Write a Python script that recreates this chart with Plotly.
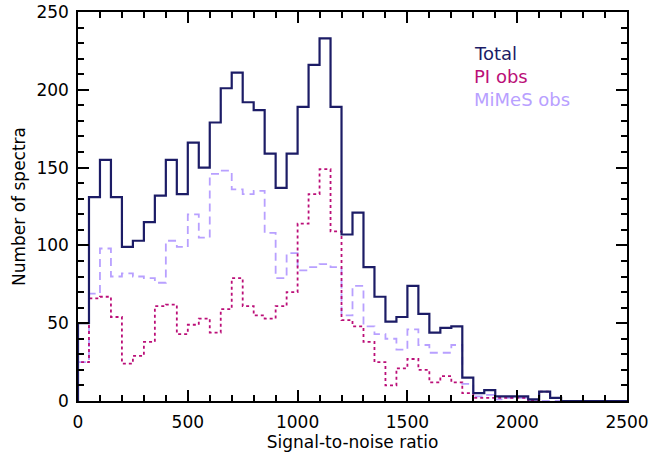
import plotly.graph_objects as go

bin_width = 50
bin_left = list(range(0, 2500, bin_width))

total = [50, 131, 155, 131, 99, 103, 115, 132, 155, 133,
         166, 150, 179, 201, 211, 192, 187, 159, 137, 159,
         189, 216, 233, 189, 107, 121, 86, 67, 51, 54,
         74, 56, 44, 47, 48, 15, 5, 7, 3, 3,
         3, 1, 6, 2, 0, 0, 0, 0, 0, 0]
pi_obs = [25, 66, 67, 54, 24, 29, 38, 61, 62, 43,
          49, 53, 44, 59, 79, 61, 55, 53, 61, 70,
          114, 133, 149, 109, 52, 48, 38, 25, 10, 21,
          27, 20, 12, 16, 12, 5, 2, 2, 2, 2,
          2, 0, 6, 2, 0, 0, 0, 0, 0, 0]
mimes_obs = [25, 69, 98, 80, 82, 80, 79, 76, 103, 99,
             120, 105, 146, 148, 136, 133, 135, 108, 79, 95,
             84, 86, 88, 86, 55, 74, 48, 43, 40, 33,
             46, 36, 31, 31, 36, 11, 3, 4, 1, 2,
             2, 0, 0, 0, 0, 0, 0, 0, 0, 0]

series_names = ["Total", "PI obs", "MiMeS obs"]
colors = ["#1c1c66", "#bb0f78", "#b8a0ff"]
dashes = ["solid", "dot", "8px,5px"]
widths = [2.2, 1.8, 1.8]


def steps(vals):
    xs = [bin_left[0]] + bin_left + [bin_left[-1] + bin_width]
    ys = [0] + list(vals) + [vals[-1]]
    return xs, ys


fig = go.Figure()
for vals, name, col, dsh, w in reversed(list(zip([total, pi_obs, mimes_obs], series_names, colors, dashes, widths))):
    xs, ys = steps(vals)
    fig.add_trace(go.Scatter(x=xs, y=ys, mode="lines", line_shape="hv", name=name,
                             line=dict(color=col, dash=dsh, width=w), showlegend=False,
                             hoverinfo="skip"))

for i, (name, col) in enumerate(zip(series_names, colors)):
    fig.add_annotation(x=0.7177, y=0.8946 - i * 0.0592, xref="paper", yref="paper",
                       text=name, showarrow=False, xanchor="left", yanchor="middle",
                       font=dict(color=col, size=18, family="DejaVu Sans"))

font = dict(family="DejaVu Sans", size=17, color="black")
axis_common = dict(showline=True, linecolor="black", linewidth=1.5, mirror="allticks",
                   ticks="inside", ticklen=11, tickwidth=1.5, tickcolor="black",
                   showgrid=False, zeroline=False, tickfont=font, automargin=False)

fig.update_xaxes(range=[0, 2500], dtick=500, tick0=0,
                 minor=dict(dtick=100, ticks="inside", ticklen=6, tickwidth=1.5, tickcolor="black", showgrid=False),
                 title=dict(text="Signal-to-noise ratio", font=font, standoff=7),
                 ticklabelstandoff=5, **axis_common)
fig.update_yaxes(range=[0, 250], dtick=50, tick0=0,
                 minor=dict(dtick=10, ticks="inside", ticklen=6, tickwidth=1.5, tickcolor="black", showgrid=False),
                 title=dict(text="Number of spectra", font=font, standoff=6),
                 ticklabelstandoff=4, **axis_common)

fig.update_layout(width=651, height=452, margin=dict(l=78, r=24, t=12, b=51),
                  plot_bgcolor="white", paper_bgcolor="white")

fig.write_html("out.html", config={"displayModeBar": False},
               post_script="document.body.style.margin='0';")
